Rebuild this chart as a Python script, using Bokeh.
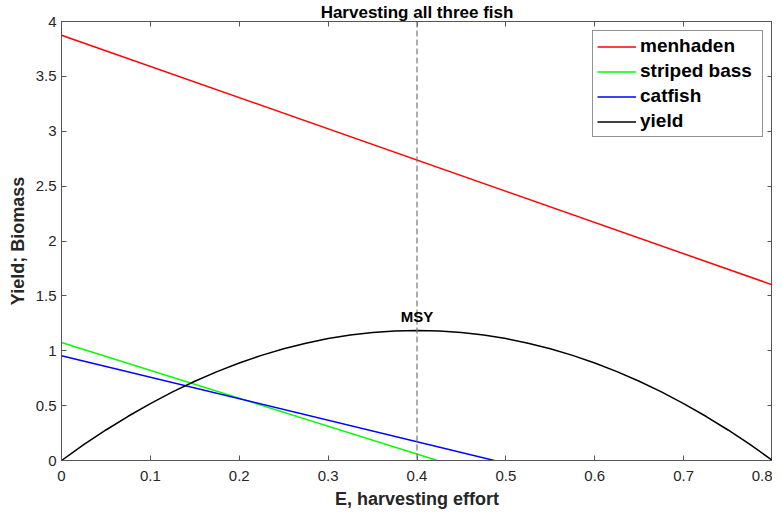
from bokeh.plotting import figure
from bokeh.models import (LinearAxis, FixedTicker, Legend, LegendItem, Span, Label,
                          Range1d)
from bokeh.embed import file_html
from bokeh.resources import INLINE

# ---------------- data ----------------
title_text = "Harvesting all three fish"
x_label = "E, harvesting effort"
y_label = "Yield; Biomass"

x_ticks = [0, 0.1, 0.2, 0.3, 0.4, 0.5, 0.6, 0.7, 0.8]
x_tick_labels = ["0", "0.1", "0.2", "0.3", "0.4", "0.5", "0.6", "0.7", "0.8"]
y_ticks = [0, 0.5, 1, 1.5, 2, 2.5, 3, 3.5, 4]
y_tick_labels = ["0", "0.5", "1", "1.5", "2", "2.5", "3", "3.5", "4"]

menhaden_E = [0.0, 0.8]
menhaden_B = [3.875, 1.60]

bass_E = [0.0, 0.423]
bass_B = [1.075, 0.0]

catfish_E = [0.0, 0.487]
catfish_B = [0.955, 0.0]

yield_E = [0.0, 0.025, 0.05, 0.075, 0.1, 0.125, 0.15, 0.175, 0.2,
           0.225, 0.25, 0.275, 0.3, 0.325, 0.35, 0.375, 0.4,
           0.425, 0.45, 0.475, 0.5, 0.525, 0.55, 0.575, 0.6,
           0.625, 0.65, 0.675, 0.7, 0.725, 0.75, 0.775, 0.8]
yield_Y = [0.0, 0.144, 0.278, 0.403, 0.518, 0.625, 0.722, 0.810, 0.889,
           0.958, 1.018, 1.069, 1.111, 1.143, 1.166, 1.180, 1.185,
           1.180, 1.166, 1.143, 1.111, 1.069, 1.018, 0.958, 0.889,
           0.810, 0.722, 0.625, 0.518, 0.403, 0.278, 0.144, 0.0]

msy_E = 0.4
msy_Y = 1.185

series_names = ["menhaden", "striped bass", "catfish", "yield"]
series_colors = ["#ff0000", "#00ff00", "#0000ff", "#000000"]

# ---------------- figure ----------------
FONT = "Liberation Sans"
TXT = "#262626"
AX = "#555555"

p = figure(width=772, height=511, output_backend="svg", toolbar_location=None,
           x_range=Range1d(0, 0.8), y_range=Range1d(0, 4),
           min_border_left=61, min_border_right=0, min_border_top=10,
           min_border_bottom=40)
p.background_fill_color = "white"
p.border_fill_color = "white"
p.outline_line_color = AX
p.xgrid.visible = False
p.ygrid.visible = False

p.title.text = title_text
p.title.align = "center"
p.title.text_font = FONT
p.title.text_font_size = "17px"
p.title.text_font_style = "bold"
p.title.text_color = "#000000"
p.title.standoff = 0


def style_axis(ax, ticks, labels, show_labels=True):
    ax.ticker = FixedTicker(ticks=ticks)
    ax.major_tick_in = 5
    ax.major_tick_out = 0
    ax.minor_tick_line_color = None
    ax.axis_line_color = AX
    ax.major_tick_line_color = AX
    ax.major_label_text_font = FONT
    ax.major_label_text_color = TXT
    ax.major_label_text_font_size = "15px"
    if show_labels:
        ax.major_label_overrides = {t: l for t, l in zip(ticks, labels)}
    else:
        ax.major_label_overrides = {t: "" for t in ticks}
        ax.major_label_standoff = 0


style_axis(p.xaxis[0], x_ticks, x_tick_labels)
style_axis(p.yaxis[0], y_ticks, y_tick_labels)
p.xaxis[0].major_label_standoff = 10
p.yaxis[0].major_label_standoff = 5

for ax, lab in ((p.xaxis[0], x_label), (p.yaxis[0], y_label)):
    ax.axis_label = lab
    ax.axis_label_text_font = FONT
    ax.axis_label_text_font_size = "18px"
    ax.axis_label_text_font_style = "bold"
    ax.axis_label_text_color = TXT
p.xaxis[0].axis_label_standoff = 5
p.yaxis[0].axis_label_standoff = 5

top_ax = LinearAxis()
style_axis(top_ax, x_ticks, x_tick_labels, show_labels=False)
p.add_layout(top_ax, "above")
right_ax = LinearAxis()
style_axis(right_ax, y_ticks, y_tick_labels, show_labels=False)
p.add_layout(right_ax, "right")

# ---------------- lines ----------------
data = [(menhaden_E, menhaden_B), (bass_E, bass_B), (catfish_E, catfish_B), (yield_E, yield_Y)]
renderers = []
for (xs, ys), c in zip(data, series_colors):
    r = p.line(x=xs, y=ys, line_color=c, line_width=1.5)
    renderers.append(r)

p.add_layout(Span(location=msy_E, dimension="height", line_color="#777777",
                  line_width=1.2, line_dash="6 3"))
p.add_layout(Label(x=msy_E, y=msy_Y, text="MSY", text_align="center",
                   text_baseline="bottom", y_offset=5, text_font=FONT,
                   text_font_size="15px", text_font_style="bold", text_color="#000000"))

legend = Legend(items=[LegendItem(label=n, renderers=[r]) for n, r in zip(series_names, renderers)],
                location="top_right")
legend.margin = 9
legend.padding = 4
legend.spacing = 3
legend.glyph_width = 39
legend.glyph_height = 21
legend.label_height = 21
legend.label_width = 118
legend.label_standoff = 4
legend.label_text_font = FONT
legend.label_text_font_size = "19px"
legend.label_text_font_style = "bold"
legend.label_text_color = "#000000"
legend.border_line_color = TXT
legend.border_line_width = 1
legend.background_fill_color = "white"
legend.background_fill_alpha = 1.0
p.add_layout(legend)

open("out.html", "w").write(file_html(p, INLINE))
